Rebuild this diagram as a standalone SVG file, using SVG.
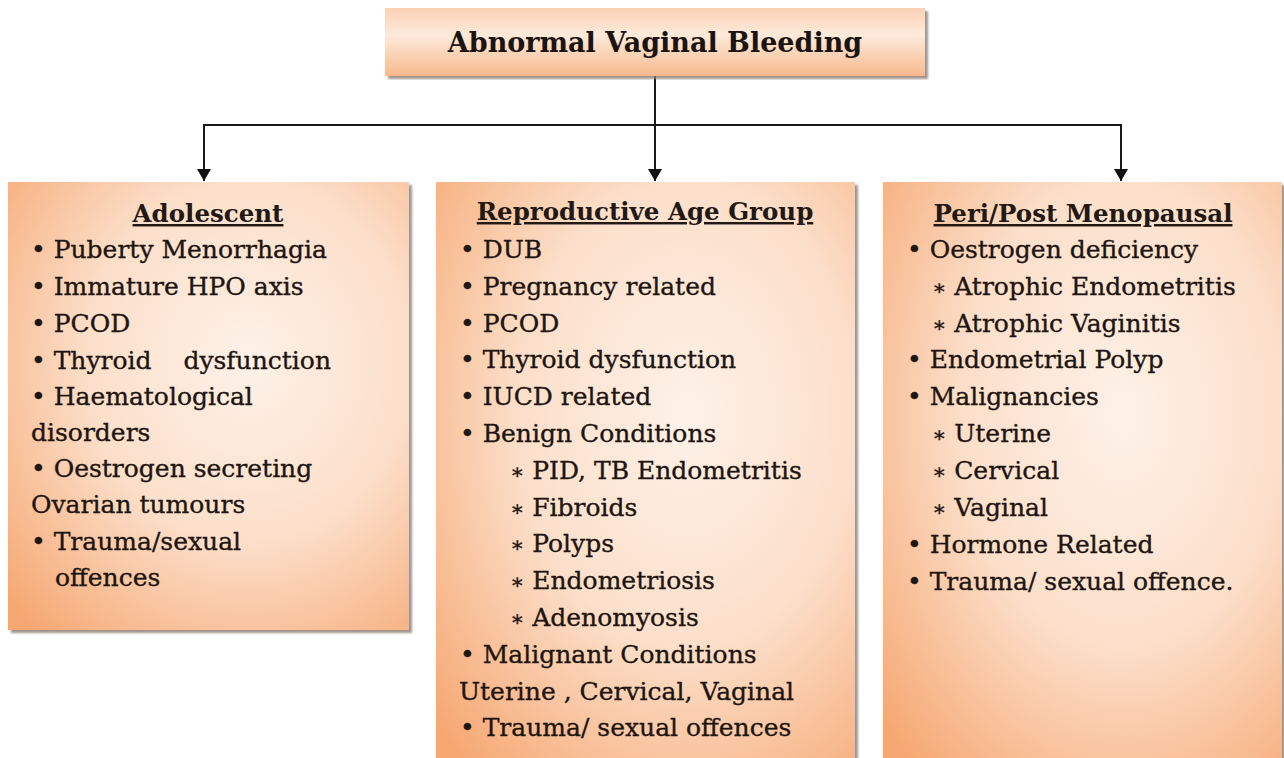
<svg xmlns="http://www.w3.org/2000/svg" width="1284" height="758" viewBox="0 0 1284 758">
  <defs>
    <radialGradient id="boxFill" cx="0.6" cy="0.4" r="0.8">
      <stop offset="0" stop-color="#fdf1e8"/>
      <stop offset="0.5" stop-color="#fcdfca"/>
      <stop offset="1" stop-color="#f6a873"/>
    </radialGradient>
    <linearGradient id="titleFill" x1="0" y1="0" x2="0" y2="1">
      <stop offset="0" stop-color="#fbd2b4"/>
      <stop offset="0.4" stop-color="#fdeadb"/>
      <stop offset="1" stop-color="#f8b98d"/>
    </linearGradient>
    <marker id="arrow" viewBox="0 0 12 14" refX="12" refY="7" markerWidth="12" markerHeight="14" markerUnits="userSpaceOnUse" orient="auto">
      <path d="M0,0 L12,7 L0,14 Z" fill="#111"/>
    </marker>
    <filter id="shadow" x="-5%" y="-5%" width="110%" height="110%">
      <feDropShadow dx="3" dy="3" stdDeviation="1" flood-color="#8c7a72" flood-opacity="0.8"/>
    </filter>
  </defs>
  <style>
    .box { fill: url(#boxFill); filter: url(#shadow); }
    .title { font-family: "DejaVu Serif", "Liberation Serif", serif; font-weight: bold; font-size: 27px; fill: #1c1410; }
    .head { font-family: "DejaVu Serif", "Liberation Serif", serif; font-weight: bold; font-size: 24.5px; fill: #231812; text-decoration: underline; }
    .item { font-family: "DejaVu Serif", "Liberation Serif", serif; font-size: 25px; fill: #1f150f; stroke: #1f150f; stroke-width: 0.35; }
    .star { font-size: 21px; }
    .conn { stroke: #1a1a1a; stroke-width: 2; fill: none; }
  </style>

  <rect width="1284" height="758" fill="#ffffff"/>

  <g id="connectors">
    <line class="conn" x1="655" y1="76" x2="655" y2="181" marker-end="url(#arrow)"/>
    <line class="conn" x1="204" y1="125" x2="1121" y2="125"/>
    <line class="conn" x1="204" y1="124" x2="204" y2="181" marker-end="url(#arrow)"/>
    <line class="conn" x1="1121" y1="124" x2="1121" y2="181" marker-end="url(#arrow)"/>
  </g>

  <g id="node-root">
    <rect x="385" y="8" width="540" height="68" fill="url(#titleFill)" filter="url(#shadow)"/>
    <text class="title" x="655" y="52" text-anchor="middle">Abnormal Vaginal Bleeding</text>
  </g>

  <g id="node-adolescent">
    <rect class="box" x="8" y="182" width="401" height="448"/>
    <text class="head" x="208" y="222" text-anchor="middle">Adolescent</text>
    <text class="item" x="31" y="258">• Puberty Menorrhagia</text>
    <text class="item" x="31" y="295">• Immature HPO axis</text>
    <text class="item" x="31" y="332">• PCOD</text>
    <text class="item" x="31" y="369" xml:space="preserve">• Thyroid    dysfunction</text>
    <text class="item" x="31" y="405">• Haematological</text>
    <text class="item" x="31" y="441">disorders</text>
    <text class="item" x="31" y="477">• Oestrogen secreting</text>
    <text class="item" x="31" y="513">Ovarian tumours</text>
    <text class="item" x="31" y="550">• Trauma/sexual</text>
    <text class="item" x="55" y="586">offences</text>
  </g>

  <g id="node-reproductive">
    <rect class="box" x="436" y="182" width="419" height="580"/>
    <text class="head" x="645" y="220" text-anchor="middle">Reproductive Age Group</text>
    <text class="item" x="460" y="258">• DUB</text>
    <text class="item" x="460" y="295">• Pregnancy related</text>
    <text class="item" x="460" y="332">• PCOD</text>
    <text class="item" x="460" y="368">• Thyroid dysfunction</text>
    <text class="item" x="460" y="405">• IUCD related</text>
    <text class="item" x="460" y="442">• Benign Conditions</text>
    <text class="item" x="510" y="479"><tspan class="star">∗</tspan> PID, TB Endometritis</text>
    <text class="item" x="510" y="516"><tspan class="star">∗</tspan> Fibroids</text>
    <text class="item" x="510" y="552"><tspan class="star">∗</tspan> Polyps</text>
    <text class="item" x="510" y="589"><tspan class="star">∗</tspan> Endometriosis</text>
    <text class="item" x="510" y="626"><tspan class="star">∗</tspan> Adenomyosis</text>
    <text class="item" x="460" y="663">• Malignant Conditions</text>
    <text class="item" x="459" y="700">Uterine , Cervical, Vaginal</text>
    <text class="item" x="460" y="736">• Trauma/ sexual offences</text>
  </g>

  <g id="node-menopausal">
    <rect class="box" x="883" y="182" width="399" height="580"/>
    <text class="head" x="1083" y="222" text-anchor="middle">Peri/Post Menopausal</text>
    <text class="item" x="907" y="258">• Oestrogen deficiency</text>
    <text class="item" x="932" y="295"><tspan class="star">∗</tspan> Atrophic Endometritis</text>
    <text class="item" x="932" y="332"><tspan class="star">∗</tspan> Atrophic Vaginitis</text>
    <text class="item" x="907" y="368">• Endometrial Polyp</text>
    <text class="item" x="907" y="405">• Malignancies</text>
    <text class="item" x="932" y="442"><tspan class="star">∗</tspan> Uterine</text>
    <text class="item" x="932" y="479"><tspan class="star">∗</tspan> Cervical</text>
    <text class="item" x="932" y="516"><tspan class="star">∗</tspan> Vaginal</text>
    <text class="item" x="907" y="553">• Hormone Related</text>
    <text class="item" x="907" y="590">• Trauma/ sexual offence.</text>
  </g>
</svg>
